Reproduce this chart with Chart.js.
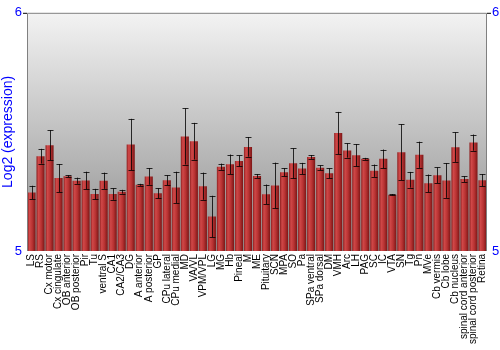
<!DOCTYPE html>
<html>
<head>
<meta charset="utf-8">
<script src="https://cdn.jsdelivr.net/npm/chart.js@4"></script>
<style>
  html, body { margin: 0; padding: 0; background: #fff; }
  #wrap { width: 500px; height: 350px; }
</style>
</head>
<body>
<div id="wrap"><canvas id="barChart" width="500" height="350"></canvas></div>
<script>
const regions = [
    'LS', 'RS', 'Cx motor', 'Cx cingulate', 'OB anterior', 'OB posterior', 'Pir', 'Tu',
    'ventral S', 'CA1', 'CA2/CA3', 'DG', 'A anterior', 'A posterior', 'GP', 'CPu lateral',
    'CPu medial', 'MD', 'VA/VL', 'VPM/VPL', 'LG', 'MG', 'Hb', 'Pineal', 'M', 'ME',
    'Pituitary', 'SCN', 'MPA', 'SO', 'Pa', 'SPa ventral', 'SPa dorsal', 'DM', 'VMH', 'Arc',
    'LH', 'PAG', 'SC', 'IC', 'VTA', 'SN', 'Tg', 'Pn', 'MVe', 'Cb vermis', 'Cb lobe',
    'Cb nucleus', 'spinal cord anterior', 'spinal cord posterior', 'Retina'
];
const expression = [
    5.246, 5.398, 5.444, 5.306, 5.314, 5.295, 5.296, 5.239, 5.295, 5.239, 5.249, 5.447,
    5.278, 5.313, 5.242, 5.297, 5.267, 5.481, 5.461, 5.272, 5.145, 5.354, 5.364, 5.378,
    5.437, 5.315, 5.238, 5.275, 5.331, 5.368, 5.346, 5.395, 5.349, 5.326, 5.495, 5.422,
    5.402, 5.387, 5.337, 5.387, 5.236, 5.415, 5.299, 5.404, 5.284, 5.318, 5.296, 5.436,
    5.302, 5.455, 5.297
];
const errors = [
    0.028, 0.031, 0.063, 0.059, 0.004, 0.013, 0.037, 0.022, 0.034, 0.024, 0.008, 0.108,
    0.004, 0.035, 0.021, 0.021, 0.066, 0.118, 0.077, 0.057, 0.087, 0.013, 0.041, 0.023,
    0.041, 0.008, 0.041, 0.096, 0.017, 0.063, 0.024, 0.008, 0.010, 0.021, 0.089, 0.030,
    0.047, 0.004, 0.026, 0.039, 0.003, 0.117, 0.033, 0.055, 0.037, 0.033, 0.073, 0.062,
    0.012, 0.034, 0.026
];
const yTicks = [5, 6];

const fontFamily = '"Liberation Sans", Arial, sans-serif';

// gray gradient behind the plot + frame
const plotBackground = {
    id: 'plotBackground',
    beforeDraw(chart) {
        const { ctx, chartArea: a } = chart;
        const g = ctx.createLinearGradient(0, a.top, 0, a.bottom);
        g.addColorStop(0, '#f3f3f3');
        g.addColorStop(1, '#8e8e8e');
        ctx.save();
        ctx.fillStyle = g;
        ctx.fillRect(a.left, a.top, a.right - a.left, a.bottom - a.top);
        ctx.restore();
    },
    afterDraw(chart) {
        const { ctx, chartArea: a } = chart;
        ctx.save();
        ctx.strokeStyle = '#808080';
        ctx.lineWidth = 1;
        ctx.beginPath();
        ctx.moveTo(a.left + 0.5, a.bottom);
        ctx.lineTo(a.left + 0.5, a.top + 0.5);
        ctx.lineTo(a.right - 0.5, a.top + 0.5);
        ctx.lineTo(a.right - 0.5, a.bottom);
        ctx.stroke();
        ctx.strokeStyle = '#000';
        ctx.beginPath();
        ctx.moveTo(a.left - 4, a.top + 0.5);
        ctx.lineTo(a.left, a.top + 0.5);
        ctx.moveTo(a.right, a.top + 0.5);
        ctx.lineTo(a.right + 4, a.top + 0.5);
        ctx.stroke();
        ctx.restore();
    }
};

const errorBars = {
    id: 'errorBars',
    afterDatasetsDraw(chart) {
        const { ctx } = chart;
        const y = chart.scales.y;
        const meta = chart.getDatasetMeta(0);
        ctx.save();
        ctx.strokeStyle = 'rgba(0,0,0,0.8)';
        ctx.lineWidth = 1;
        meta.data.forEach((bar, i) => {
            const x = Math.round(bar.x) + 0.5;
            const top = y.getPixelForValue(expression[i] + errors[i]);
            const bottom = y.getPixelForValue(expression[i] - errors[i]);
            ctx.beginPath();
            ctx.moveTo(x, top);
            ctx.lineTo(x, bottom);
            ctx.moveTo(x - 3, Math.round(top) + 0.5);
            ctx.lineTo(x + 3, Math.round(top) + 0.5);
            ctx.moveTo(x - 3, Math.round(bottom) + 0.5);
            ctx.lineTo(x + 3, Math.round(bottom) + 0.5);
            ctx.stroke();
        });
        ctx.restore();
    }
};

// horizontal shading inside each bar, placed from the x scale
function barFill(context) {
    const chart = context.chart;
    const xs = chart.scales && chart.scales.x;
    if (!xs || !chart.chartArea) return '#b83030';
    const cx = xs.getPixelForValue(context.dataIndex);
    const half = (xs.width / regions.length) * 0.45;
    if (!Number.isFinite(cx) || !Number.isFinite(half) || half <= 0) return '#b83030';
    const g = chart.ctx.createLinearGradient(cx - half, 0, cx + half, 0);
    g.addColorStop(0, '#8e2020');
    g.addColorStop(0.25, '#d04848');
    g.addColorStop(0.6, '#b83232');
    g.addColorStop(1, '#7a1616');
    return g;
}

new Chart(document.getElementById('barChart'), {
    type: 'bar',
    data: {
        labels: regions,
        datasets: [{
            data: expression,
            backgroundColor: barFill,
            borderWidth: 0,
            barPercentage: 0.9,
            categoryPercentage: 1.0
        }]
    },
    options: {
        responsive: false,
        animation: false,
        layout: { padding: { top: 10, left: 0, right: 0, bottom: 0 } },
        plugins: {
            legend: { display: false },
            tooltip: { enabled: false }
        },
        scales: {
            x: {
                grid: { display: false, drawTicks: false },
                border: { display: false },
                ticks: {
                    color: '#000',
                    autoSkip: false,
                    minRotation: 90,
                    maxRotation: 90,
                    padding: 3,
                    font: { family: fontFamily, size: 10 }
                },
                afterFit(scale) { scale.height = 99; }
            },
            y: {
                position: 'left',
                min: 5,
                max: 6,
                afterBuildTicks(scale) { scale.ticks = yTicks.map(v => ({ value: v })); },
                grid: { display: false, drawTicks: false },
                border: { display: false },
                ticks: {
                    color: '#0000ff',
                    padding: 5,
                    font: { family: fontFamily, size: 13 }
                },
                title: {
                    display: true,
                    text: 'Log2 (expression)',
                    color: '#0000ff',
                    padding: 0,
                    font: { family: fontFamily, size: 14 }
                },
                afterFit(scale) { scale.width = 27; }
            },
            y2: {
                position: 'right',
                min: 5,
                max: 6,
                afterBuildTicks(scale) { scale.ticks = yTicks.map(v => ({ value: v })); },
                grid: { display: false, drawTicks: false },
                border: { display: false },
                ticks: {
                    color: '#0000ff',
                    padding: 5,
                    font: { family: fontFamily, size: 13 }
                },
                afterFit(scale) { scale.width = 13; }
            }
        }
    },
    plugins: [plotBackground, errorBars]
});
</script>
</body>
</html>
